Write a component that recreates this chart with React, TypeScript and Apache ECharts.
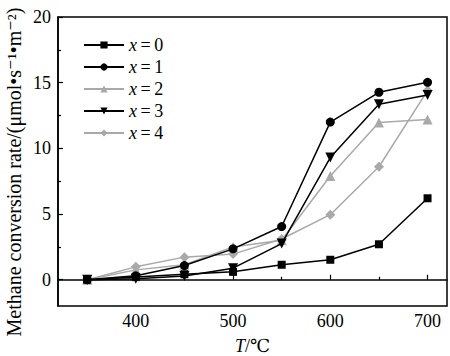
import React, { useEffect, useRef } from "react";
import * as echarts from "echarts";

const temps = [350, 400, 450, 500, 550, 600, 650, 700];
const seriesNames = ["0", "1", "2", "3", "4"];
const x0 = [0, 0.2, 0.42, 0.6, 1.14, 1.52, 2.7, 6.2];
const x1 = [0, 0.3, 1.08, 2.35, 4.05, 12.0, 14.27, 15.03];
const x2 = [0, 0.75, 1.14, 2.5, 3.0, 7.9, 11.96, 12.2];
const x3 = [0, 0.08, 0.28, 0.88, 2.75, 9.3, 13.36, 14.07];
const x4 = [0, 0.98, 1.72, 1.95, 3.1, 4.95, 8.6, 14.4];
const xMajorTicks = [400, 500, 600, 700];
const xMinorTicks = [350, 450, 550, 650];
const yMajorTicks = [0, 5, 10, 15, 20];
const yMinorTicks = [2.5, 7.5, 12.5, 17.5];
const yTitle = "Methane conversion rate/(μmol•s⁻¹•m⁻²)";

const FONT = "'Liberation Serif', 'DejaVu Serif', serif";
const GREY = "#a9a9a9";

export default function App() {
  const ref = useRef<HTMLDivElement>(null);
  useEffect(() => {
    const chart = echarts.init(ref.current!, null, { renderer: "svg" });
    const data = [x0, x1, x2, x3, x4];
    const colors = ["#000", "#000", GREY, "#000", GREY];
    const symbols = ["rect", "circle", "triangle", "triangle", "diamond"];
    const sizes = [8, 9, 10, 10, 10];
    const rotates = [0, 0, 0, 180, 0];
    const series = data.map((d, i) => ({
      name: "x=" + seriesNames[i],
      type: "line",
      data: temps.map((t, j) => [t, d[j]]),
      symbol: symbols[i],
      symbolSize: sizes[i],
      symbolRotate: rotates[i],
      showAllSymbol: true,
      lineStyle: { color: colors[i], width: 1.5 },
      itemStyle: { color: colors[i] },
      z: i === 2 || i === 4 ? 2 : 3,
    }));
    const baseX = {
      type: "value",
      min: 320,
      max: 720,
      position: "bottom",
      splitLine: { show: false },
    };
    const baseY = {
      type: "value",
      min: -2,
      max: 20,
      position: "left",
      splitLine: { show: false },
    };
    chart.setOption({
      animation: false,
      grid: {
        left: 58,
        right: 3,
        top: 17,
        bottom: 50,
        show: true,
        borderColor: "#000",
        borderWidth: 1.5,
        backgroundColor: "transparent",
        outerBoundsMode: "none",
        containLabel: false,
      },
      legend: {
        orient: "vertical",
        left: 78,
        top: 31,
        itemWidth: 40,
        itemHeight: 9,
        itemGap: 4,
        data: series.map((s) => s.name),
        formatter: (n: string) => "{i|x}{n|\u2009=\u2009" + n.slice(2) + "}",
        textStyle: {
          fontFamily: FONT,
          fontSize: 18,
          color: "#000",
          rich: {
            i: { fontFamily: FONT, fontSize: 18, fontStyle: "italic", color: "#000" },
            n: { fontFamily: FONT, fontSize: 18, color: "#000" },
          },
        },
      },
      graphic: [
        {
          type: "text",
          x: 14,
          y: 172,
          rotation: Math.PI / 2,
          style: {
            text: yTitle,
            font: "20px " + FONT,
            fill: "#000",
            align: "center",
            verticalAlign: "middle",
          },
        },
      ],
      xAxis: [
        {
          ...baseX,
          name: "{i|T}{n|/℃}",
          nameLocation: "middle",
          nameGap: 31,
          nameTextStyle: {
            rich: {
              i: { fontFamily: FONT, fontSize: 18, fontStyle: "italic", color: "#000" },
              n: { fontFamily: FONT, fontSize: 18, color: "#000" },
            },
          },
          axisLine: { show: true, lineStyle: { color: "#000", width: 1.5 } },
          axisTick: { show: true, inside: true, length: 5, customValues: xMajorTicks, lineStyle: { color: "#000", width: 1.2 } },
          axisLabel: { customValues: xMajorTicks, fontFamily: FONT, fontSize: 18, color: "#000", margin: 6 },
        },
        {
          ...baseX,
          axisLine: { show: false },
          axisTick: { show: true, inside: true, length: 3, customValues: xMinorTicks, lineStyle: { color: "#000", width: 1.2 } },
          axisLabel: { show: false },
        },
      ],
      yAxis: [
        {
          ...baseY,
          axisLine: { show: true, lineStyle: { color: "#000", width: 1.5 } },
          axisTick: { show: true, inside: true, length: 5, customValues: yMajorTicks, lineStyle: { color: "#000", width: 1.2 } },
          axisLabel: { customValues: yMajorTicks, fontFamily: FONT, fontSize: 18, color: "#000", margin: 7 },
        },
        {
          ...baseY,
          axisLine: { show: false },
          axisTick: { show: true, inside: true, length: 3, customValues: yMinorTicks, lineStyle: { color: "#000", width: 1.2 } },
          axisLabel: { show: false },
        },
      ],
      series,
    });
    return () => chart.dispose();
  }, []);
  return <div ref={ref} style={{ width: 450, height: 356, position: "absolute", left: 0, top: 0 }} />;
}
